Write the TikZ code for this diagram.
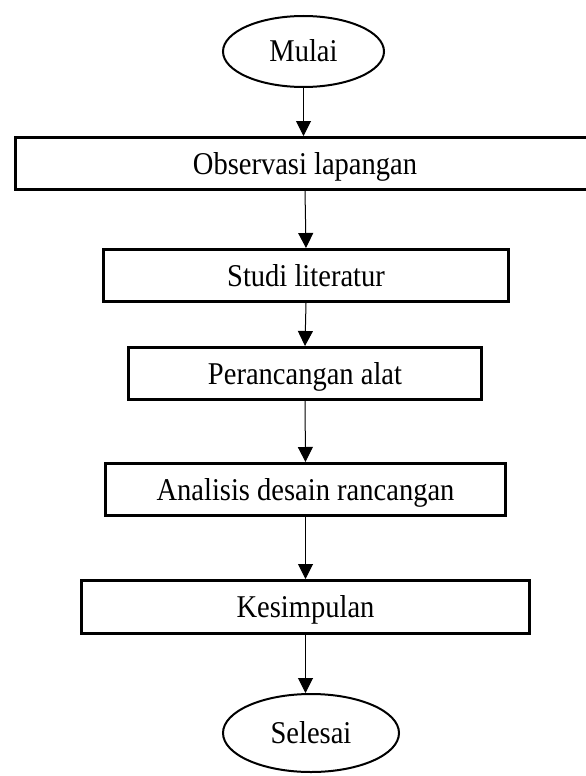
\documentclass[tikz,border=0pt]{standalone}
\usepackage{fontspec}
\setmainfont[FakeStretch=0.9]{Liberation Serif}
\usetikzlibrary{shapes.geometric,arrows.meta}
\begin{document}
\begin{tikzpicture}[x=1pt,y=-1pt,
  every node/.style={font=\fontsize{31.7}{33}\selectfont, text height=21pt, text depth=0pt, inner sep=0pt},
  procbox/.style={draw=black, line width=3pt, rectangle, minimum height=52pt},
  termnode/.style={draw=black, line width=2pt, ellipse},
  flowarrow/.style={draw=black, line width=1pt, -{Triangle[width=15pt,length=15pt]}}]
\useasboundingbox (0,0) rectangle (586,776);
\node[termnode, minimum width=161pt, minimum height=71pt] (mulai) at (303.5,51.5) {Mulai};
\node[procbox, minimum width=579pt] (obs) at (305,163.5) {Observasi lapangan};
\node[procbox, minimum width=405pt] (studi) at (306,275.5) {Studi literatur};
\node[procbox, minimum width=353pt] (peran) at (305,373.5) {Perancangan alat};
\node[procbox, minimum width=400pt] (anal) at (305.5,489.5) {Analisis desain rancangan};
\node[procbox, minimum width=448pt, minimum height=53pt] (kes) at (305.5,607) {Kesimpulan};
\node[termnode, minimum width=176pt, minimum height=78pt] (sel) at (311,733) {Selesai};
\draw[flowarrow] (mulai.south) -- (mulai.south |- obs.north);
\draw[flowarrow] (obs.south) -- (studi.north);
\draw[flowarrow] (studi.south) -- (peran.north);
\draw[flowarrow] (peran.south) -- (anal.north);
\draw[flowarrow] (anal.south) -- (kes.north);
\draw[flowarrow] (kes.south) -- (kes.south |- sel.north);
\end{tikzpicture}
\end{document}
